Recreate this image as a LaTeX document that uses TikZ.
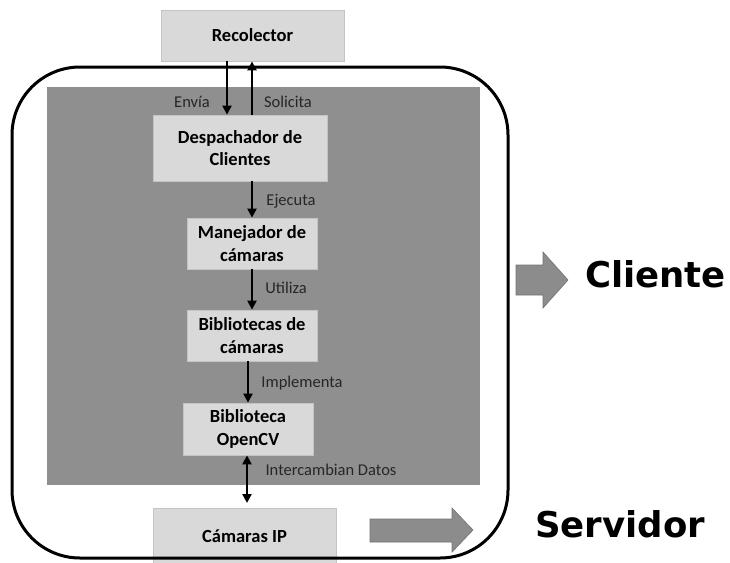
\documentclass[tikz,border=0pt]{standalone}
\usepackage{fontspec}
\setmainfont{Carlito}
\newfontfamily\bigsans{DejaVu Sans}
\usetikzlibrary{arrows.meta}
\definecolor{boxfill}{HTML}{D9D9D9}
\definecolor{boxline}{HTML}{C4C4C4}
\definecolor{panel}{HTML}{8F8F8F}
\definecolor{labeltext}{HTML}{262626}
\definecolor{blockarrow}{HTML}{8C8C8C}
\tikzset{
  compbox/.style={draw=boxline, fill=boxfill, line width=0.8pt, inner sep=0pt,
    align=center, font=\fontsize{18.5}{22.5}\selectfont\bfseries, text=black},
  flow/.style={line width=2.5pt, -{Triangle[length=9pt,width=9pt]}},
  flowboth/.style={line width=2.5pt, {Triangle[length=9pt,width=9pt]}-{Triangle[length=9pt,width=9pt]}},
  lbl/.style={font=\fontsize{16.5}{19}\selectfont, text=labeltext, inner sep=0pt},
  bigword/.style={font=\bigsans\fontsize{35.5}{40}\selectfont\bfseries, anchor=base west, inner sep=0pt},
  blockarr/.style={fill=blockarrow, draw=gray!90!black, line width=0.6pt}
}
\begin{document}
\begin{tikzpicture}[x=1pt,y=-1pt]
\useasboundingbox (0,0) rectangle (730,562);
% dark panel
\fill[panel] (47,87) rectangle (480,485);
% component boxes
\node[compbox, minimum width=183pt, minimum height=51pt] (rec) at (252.5,35.5) {Recolector};
\node[compbox, minimum width=174pt, minimum height=66pt] (desp) at (240,148) {Despachador de\\Clientes};
\node[compbox, minimum width=130pt, minimum height=51pt] (man) at (252,243.5) {Manejador de\\cámaras};
\node[compbox, minimum width=130pt, minimum height=51pt] (bib) at (252,335.5) {Bibliotecas de\\cámaras};
\node[compbox, minimum width=130pt, minimum height=52pt] (ocv) at (248,429) {Biblioteca\\OpenCV};
\node[compbox, minimum width=183pt, minimum height=56pt] (cam) at (244.5,536) {Cámaras IP};
% outer rounded frame
\draw[line width=3pt, rounded corners=68pt] (12,67) rectangle (508,558);
% connector x positions
\coordinate (xa) at (227,0);
\coordinate (xb) at (252,0);
\coordinate (xc) at (248,0);
\coordinate (xd) at (247,0);
\coordinate (camtop) at (247,503);
% connectors
\draw[flow] (rec.south -| xa) -- (desp.north -| xa);
\draw[flow] (desp.north -| xb) -- (rec.south -| xb);
\draw[flow] (desp.south -| xb) -- (man.north -| xb);
\draw[flow] (man.south -| xb) -- (bib.north -| xb);
\draw[flow] (bib.south -| xc) -- (ocv.north -| xc);
\draw[flowboth] (ocv.south -| xd) -- (camtop);
% connector labels
\node[lbl] (lenv) at (192,102) {Envía};
\node[lbl] (lsol) at (288,102) {Solicita};
\node[lbl] (leje) at (291,201) {Ejecuta};
\node[lbl] (luti) at (286,288) {Utiliza};
\node[lbl] (limp) at (302,383) {Implementa};
\node[lbl] (lint) at (331,470) {Intercambian Datos};
% block arrows
\path[blockarr] (516,265) -- (543,265) -- (543,252) -- (568,280) -- (543,308) -- (543,295) -- (516,295) -- cycle;
\path[blockarr] (370,519) -- (452,519) -- (452,508) -- (473,530) -- (452,552) -- (452,542) -- (370,542) -- cycle;
% side words
\node[bigword] (cli) at (585,287) {Cliente};
\node[bigword] (ser) at (535,537) {Servidor};
\end{tikzpicture}
\end{document}
